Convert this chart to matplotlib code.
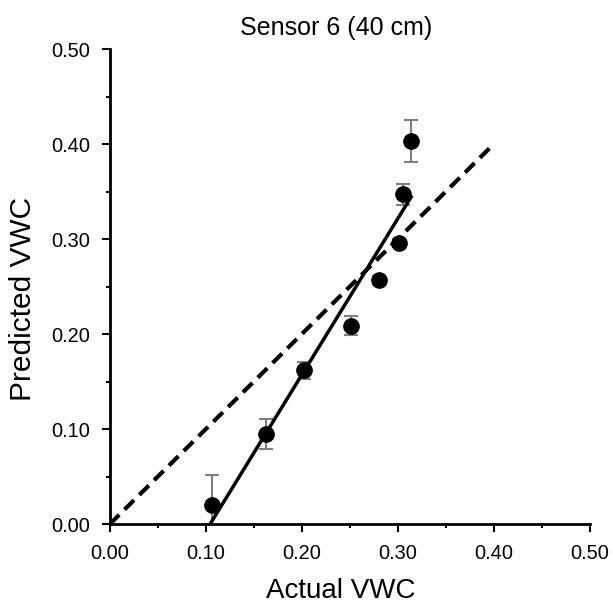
import numpy as np
import matplotlib.pyplot as plt
from matplotlib.ticker import MultipleLocator

plt.rcParams['font.family'] = ['Liberation Sans', 'DejaVu Sans']

# data
actual = [0.107, 0.163, 0.202, 0.251, 0.281, 0.301, 0.305, 0.314]
predicted = [0.020, 0.095, 0.162, 0.209, 0.257, 0.296, 0.347, 0.403]
err = [0.032, 0.016, 0.009, 0.010, 0.004, 0.004, 0.011, 0.022]
one_to_one = [0.0, 0.40]

fig = plt.figure(figsize=(6.13, 6.06), dpi=100)
ax = fig.add_axes([0.179, 0.135, 0.783, 0.784])

ax.errorbar(actual, predicted, yerr=err, fmt='none', ecolor='#7f7f7f',
            elinewidth=1.5, capsize=5, capthick=1.5, zorder=2)
ax.plot(actual, predicted, 'o', color='black', markersize=11, zorder=3)

# 1:1 line
ax.plot(one_to_one, one_to_one, '--', color='black', linewidth=3,
        dashes=(3.2, 1.8), zorder=4)

# linear fit
slope, icpt = np.polyfit(actual, predicted, 1)
xs = np.array([-icpt / slope, max(actual)])
ax.plot(xs, slope * xs + icpt, '-', color='black', linewidth=2.5, zorder=4)

ax.set_xlim(0, 0.5)
ax.set_ylim(0, 0.5)
ax.xaxis.set_major_locator(MultipleLocator(0.1))
ax.yaxis.set_major_locator(MultipleLocator(0.1))
ax.xaxis.set_minor_locator(MultipleLocator(0.05))
ax.yaxis.set_minor_locator(MultipleLocator(0.05))
ax.xaxis.set_major_formatter(plt.FormatStrFormatter('%.2f'))
ax.yaxis.set_major_formatter(plt.FormatStrFormatter('%.2f'))
ax.tick_params(which='major', length=6, width=1.5, labelsize=14.4, direction='out', pad=8)
ax.tick_params(which='minor', length=3, width=1.5, direction='out')
for s in ['top', 'right']:
    ax.spines[s].set_visible(False)
for s in ['left', 'bottom']:
    ax.spines[s].set_linewidth(2)

ax.set_title('Sensor 6 (40 cm)', fontsize=18, pad=10, x=0.471)
ax.set_xlabel('Actual VWC', fontsize=20, labelpad=11, x=0.481)
ax.set_ylabel('Predicted VWC', fontsize=21.5, labelpad=10, y=0.474)

plt.savefig('out.png', dpi=100)
